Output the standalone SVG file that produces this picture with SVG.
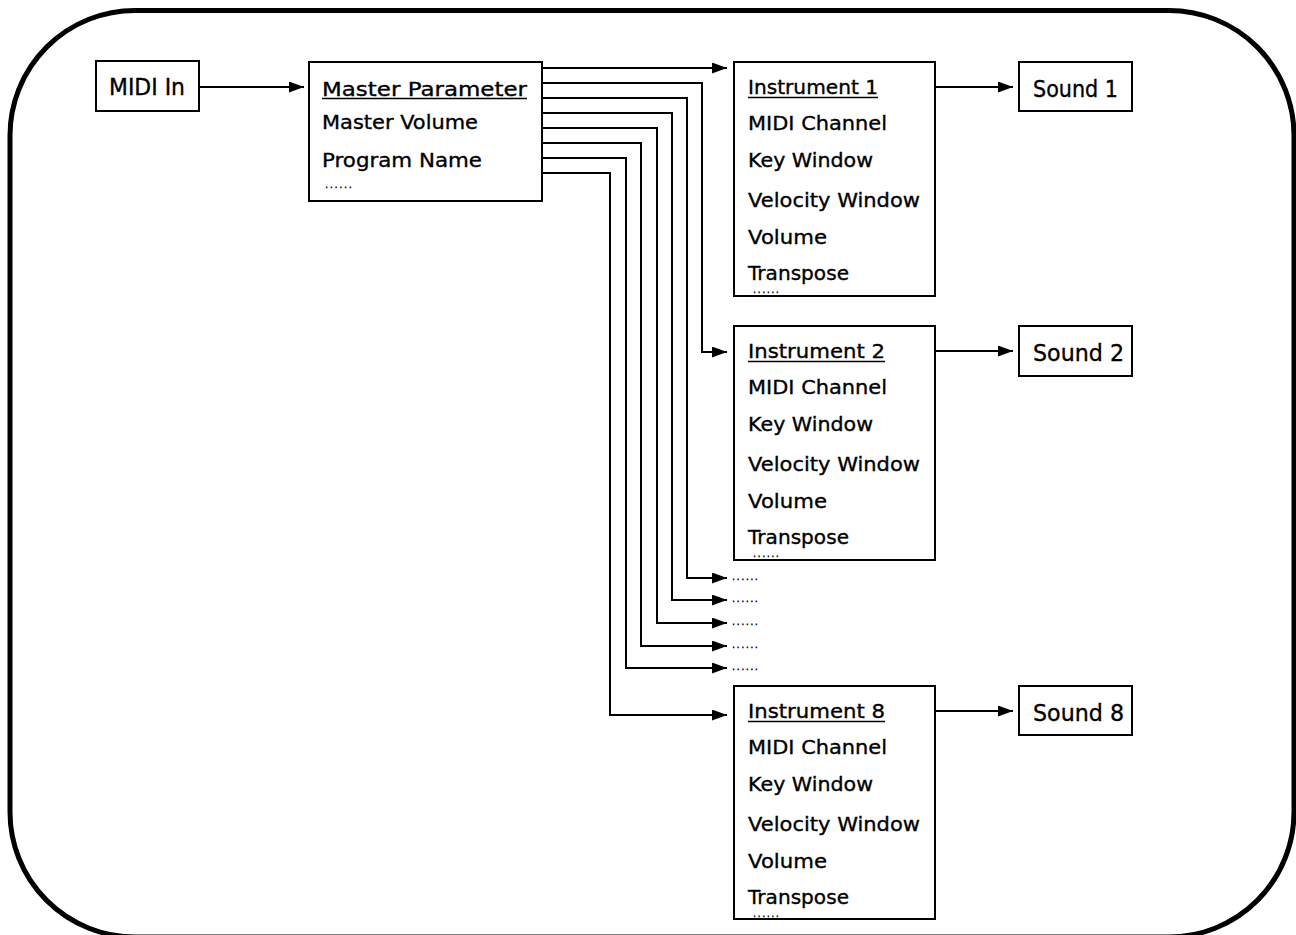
<svg xmlns="http://www.w3.org/2000/svg" width="1296" height="935" viewBox="0 0 1296 935">
<style>
.bg{fill:#fff}
.frame{fill:none;stroke:#000;stroke-width:5}
.box{fill:#fff;stroke:#000;stroke-width:2}
.t{font-family:"DejaVu Sans","Liberation Sans",sans-serif;font-size:20px;fill:#000;stroke:#000;stroke-width:0.35}
.big{font-size:23px}
.dots{font-family:"DejaVu Sans","Liberation Sans",sans-serif;font-size:10px;fill:#000;stroke:#000;stroke-width:0.3}
.ul{stroke:#000;stroke-width:1.6}
.conn path{fill:none;stroke:#000;stroke-width:2;marker-end:url(#ah)}
</style>
<defs>
<marker id="ah" markerUnits="userSpaceOnUse" markerWidth="15" markerHeight="11" refX="15" refY="5.5" orient="auto">
<path d="M0,0 L15,5.5 L0,11 Z" fill="#000"/>
</marker>
</defs>
<rect class="bg" x="0" y="0" width="1296" height="935"/>
<rect class="frame" x="10" y="10.5" width="1284" height="926.5" rx="125" ry="125"/>

<g id="conns" class="conn">
<path d="M199,87 H304"/>
<path d="M542,68 H727"/>
<path d="M542,83 H702 V352 H727"/>
<path d="M542,98 H687 V578 H727"/>
<path d="M542,113 H672 V600 H727"/>
<path d="M542,128 H657 V623 H727"/>
<path d="M542,143 H641 V646 H727"/>
<path d="M542,158 H626 V668 H727"/>
<path d="M542,173 H610 V715 H727"/>
<path d="M935,87 H1013"/>
<path d="M935,351 H1013"/>
<path d="M935,711 H1013"/>
</g>

<g id="more">
<text class="dots" x="732" y="580" textLength="26" lengthAdjust="spacing">......</text>
<text class="dots" x="732" y="602" textLength="26" lengthAdjust="spacing">......</text>
<text class="dots" x="732" y="625" textLength="26" lengthAdjust="spacing">......</text>
<text class="dots" x="732" y="648" textLength="26" lengthAdjust="spacing">......</text>
<text class="dots" x="732" y="670" textLength="26" lengthAdjust="spacing">......</text>
</g>

<g id="midi-in">
<rect class="box" x="96" y="61" width="103" height="50"/>
<text class="t big" x="109" y="95" textLength="76" lengthAdjust="spacingAndGlyphs">MIDI In</text>
</g>

<g id="master">
<rect class="box" x="309" y="62" width="233" height="139"/>
<text class="t" x="322" y="95.5" textLength="205" lengthAdjust="spacingAndGlyphs">Master Parameter</text>
<line class="ul" x1="322" y1="98.5" x2="527" y2="98.5"/>
<text class="t" x="322" y="129" textLength="156" lengthAdjust="spacingAndGlyphs">Master Volume</text>
<text class="t" x="322" y="167" textLength="160" lengthAdjust="spacingAndGlyphs">Program Name</text>
<text class="dots" x="325" y="188" textLength="27" lengthAdjust="spacing">......</text>
</g>

<g id="inst1">
<rect class="box" x="734" y="62" width="201" height="234"/>
<text class="t" x="748" y="94" textLength="130" lengthAdjust="spacingAndGlyphs">Instrument 1</text>
<line class="ul" x1="748" y1="97.5" x2="878" y2="97.5"/>
<text class="t" x="748" y="130" textLength="139" lengthAdjust="spacingAndGlyphs">MIDI Channel</text>
<text class="t" x="748" y="167" textLength="125" lengthAdjust="spacingAndGlyphs">Key Window</text>
<text class="t" x="748" y="207" textLength="172" lengthAdjust="spacingAndGlyphs">Velocity Window</text>
<text class="t" x="748" y="244" textLength="79" lengthAdjust="spacingAndGlyphs">Volume</text>
<text class="t" x="748" y="279.5" textLength="101" lengthAdjust="spacingAndGlyphs">Transpose</text>
<text class="dots" x="753" y="292.5" textLength="26" lengthAdjust="spacing">......</text>
</g>

<g id="inst2">
<rect class="box" x="734" y="326" width="201" height="234"/>
<text class="t" x="748" y="358" textLength="137" lengthAdjust="spacingAndGlyphs">Instrument 2</text>
<line class="ul" x1="748" y1="361.5" x2="885" y2="361.5"/>
<text class="t" x="748" y="394" textLength="139" lengthAdjust="spacingAndGlyphs">MIDI Channel</text>
<text class="t" x="748" y="431" textLength="125" lengthAdjust="spacingAndGlyphs">Key Window</text>
<text class="t" x="748" y="471" textLength="172" lengthAdjust="spacingAndGlyphs">Velocity Window</text>
<text class="t" x="748" y="508" textLength="79" lengthAdjust="spacingAndGlyphs">Volume</text>
<text class="t" x="748" y="543.5" textLength="101" lengthAdjust="spacingAndGlyphs">Transpose</text>
<text class="dots" x="753" y="556.5" textLength="26" lengthAdjust="spacing">......</text>
</g>

<g id="inst8">
<rect class="box" x="734" y="686" width="201" height="233"/>
<text class="t" x="748" y="718" textLength="137" lengthAdjust="spacingAndGlyphs">Instrument 8</text>
<line class="ul" x1="748" y1="721.5" x2="885" y2="721.5"/>
<text class="t" x="748" y="754" textLength="139" lengthAdjust="spacingAndGlyphs">MIDI Channel</text>
<text class="t" x="748" y="791" textLength="125" lengthAdjust="spacingAndGlyphs">Key Window</text>
<text class="t" x="748" y="831" textLength="172" lengthAdjust="spacingAndGlyphs">Velocity Window</text>
<text class="t" x="748" y="868" textLength="79" lengthAdjust="spacingAndGlyphs">Volume</text>
<text class="t" x="748" y="903.5" textLength="101" lengthAdjust="spacingAndGlyphs">Transpose</text>
<text class="dots" x="753" y="916.5" textLength="26" lengthAdjust="spacing">......</text>
</g>

<g id="sound1">
<rect class="box" x="1019" y="62" width="113" height="49"/>
<text class="t big" x="1033" y="97" textLength="85" lengthAdjust="spacingAndGlyphs">Sound 1</text>
</g>
<g id="sound2">
<rect class="box" x="1019" y="326" width="113" height="50"/>
<text class="t big" x="1033" y="361" textLength="91" lengthAdjust="spacingAndGlyphs">Sound 2</text>
</g>
<g id="sound8">
<rect class="box" x="1019" y="686" width="113" height="49"/>
<text class="t big" x="1033" y="721" textLength="91" lengthAdjust="spacingAndGlyphs">Sound 8</text>
</g>
</svg>
